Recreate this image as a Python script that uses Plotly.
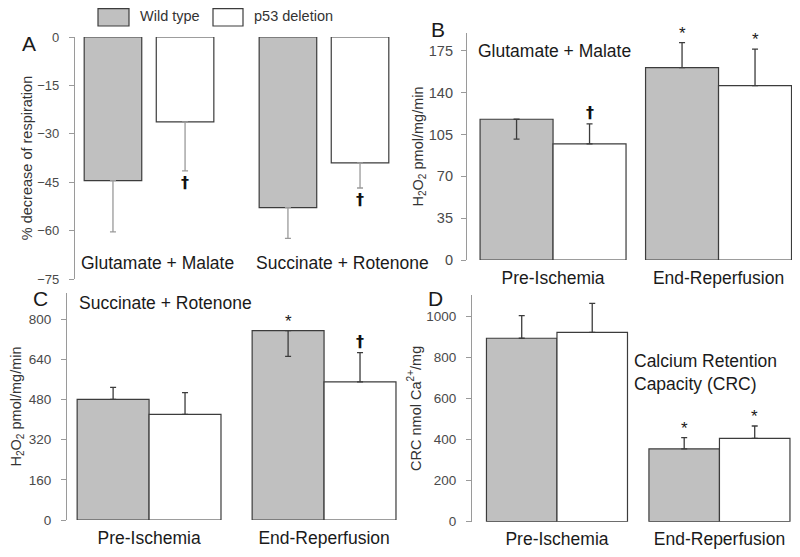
import plotly.graph_objects as go

FONT = "Liberation Sans, Arial, sans-serif"

series = ["Wild type", "p53 deletion"]
series_colors = ["#c0c0c0", "#ffffff"]

# Panel A: % decrease of respiration
a_cats = ["Glutamate + Malate", "Succinate + Rotenone"]
a_wt = [-44.5, -52.9]
a_wt_err = [15.9, 9.5]
a_p53 = [-26.3, -39.0]
a_p53_err = [15.2, 7.8]
a_wt_marks = ["", ""]
a_p53_marks = ["†", "†"]
a_ticks = [0, -15, -30, -45, -60, -75]

# Panels B-D
phases = ["Pre-Ischemia", "End-Reperfusion"]

b_wt = [117.8, 161.1]
b_wt_up = [0, 20.9]
b_wt_dn = [16.7, 0]
b_p53 = [97.2, 146.0]
b_p53_up = [16.7, 30.5]
b_p53_dn = [0, 0]
b_wt_marks = ["", "*"]
b_p53_marks = ["†", "*"]
b_ticks = [0, 35, 70, 105, 140, 175]

c_wt = [481, 755]
c_wt_up = [48, 0]
c_wt_dn = [0, 103]
c_p53 = [421, 551]
c_p53_up = [87, 116]
c_p53_dn = [0, 0]
c_wt_marks = ["", "*"]
c_p53_marks = ["", "†"]
c_ticks = [0, 160, 320, 480, 640, 800]

d_wt = [895, 355]
d_wt_up = [110, 55]
d_wt_dn = [0, 0]
d_p53 = [924, 407]
d_p53_up = [141, 60]
d_p53_dn = [0, 0]
d_wt_marks = ["", "*"]
d_p53_marks = ["", "*"]
d_ticks = [0, 200, 400, 600, 800, 1000]

# page has an 8px body margin; figure sized to fit the window
OFF = 8
W, H = 800 - OFF, 557 - OFF
fig = go.Figure()


def px_x(a, b):
    return [(a - OFF) / W, (b - OFF) / W]


def px_y(top, bottom):
    return [1 - (bottom - OFF) / H, 1 - (top - OFF) / H]


def pap(x, y):
    return (x - OFF) / W, 1 - (y - OFF) / H


panels = {
    "A": dict(ax="", xdom=px_x(75, 398), ydom=px_y(37, 279), xr=[-0.423, 1.423], yr=[-75, 0]),
    "B": dict(ax="2", xdom=px_x(467, 795), ydom=px_y(33, 260), xr=[-0.52, 1.462], yr=[0, 190]),
    "C": dict(ax="3", xdom=px_x(67, 400), ydom=px_y(293, 520), xr=[-0.469, 1.434], yr=[0, 905]),
    "D": dict(ax="4", xdom=px_x(472, 795), ydom=px_y(295, 521.7), xr=[-0.523, 1.465], yr=[0, 1106]),
}

annotations = []


def mark_font(m):
    if m == "†":
        return dict(size=16, color="#111111", family="DejaVu Sans, sans-serif")
    return dict(size=17, color="#1a1a1a", family=FONT)


def add_bar(panel, cats, vals, up, dn, name, color, width, offset, errcolor, marks, negative=False):
    ax = panels[panel]["ax"]
    fig.add_trace(go.Bar(
        x=cats, y=vals, name=name, showlegend=False,
        width=width, offset=offset,
        marker=dict(color=color, line=dict(color="#3c3c3c", width=1.2)),
        error_y=dict(type="data", symmetric=False, array=up, arrayminus=dn,
                     color=errcolor, thickness=1.3, width=3),
        xaxis="x" + ax, yaxis="y" + ax,
    ))
    for i, m in enumerate(marks):
        if not m:
            continue
        xc = i + offset + width / 2
        txt = "<b>" + m + "</b>" if m == "†" else m
        if negative:
            annotations.append(dict(x=xc, y=vals[i] - dn[i], xref="x" + ax, yref="y" + ax,
                                    text=txt, showarrow=False, xanchor="center", yanchor="top",
                                    font=mark_font(m)))
        else:
            top = max(vals[i], vals[i] + up[i])
            annotations.append(dict(x=xc, y=top, xref="x" + ax, yref="y" + ax,
                                    text=txt, showarrow=False, xanchor="center", yanchor="bottom",
                                    yshift=-2 if m == "*" else 0, font=mark_font(m)))


# Panel A
aw = 0.329
add_bar("A", a_cats, a_wt, [0, 0], a_wt_err, series[0], series_colors[0], aw, -0.206 - aw / 2, "#9a9a9a", a_wt_marks, True)
add_bar("A", a_cats, a_p53, [0, 0], a_p53_err, series[1], series_colors[1], aw, 0.206 - aw / 2, "#9a9a9a", a_p53_marks, True)
for i, c in enumerate(a_cats):
    annotations.append(dict(x=i - 0.206 - aw / 2, y=-70, xref="x", yref="y", text=c, showarrow=False,
                            xanchor="left", yanchor="middle", xshift=-5,
                            font=dict(size=17.5, color="#1a1a1a", family=FONT)))

# Panel B
bw = 0.441
add_bar("B", phases, b_wt, b_wt_up, b_wt_dn, series[0], series_colors[0], bw, -bw, "#3c3c3c", b_wt_marks)
add_bar("B", phases, b_p53, b_p53_up, b_p53_dn, series[1], series_colors[1], bw, 0, "#3c3c3c", b_p53_marks)

# Panel C
cw = 0.411
add_bar("C", phases, c_wt, c_wt_up, c_wt_dn, series[0], series_colors[0], cw, -cw, "#3c3c3c", c_wt_marks)
add_bar("C", phases, c_p53, c_p53_up, c_p53_dn, series[1], series_colors[1], cw, 0, "#3c3c3c", c_p53_marks)

# Panel D
dw = 0.434
add_bar("D", phases, d_wt, d_wt_up, d_wt_dn, series[0], series_colors[0], dw, -dw, "#3c3c3c", d_wt_marks)
add_bar("D", phases, d_p53, d_p53_up, d_p53_dn, series[1], series_colors[1], dw, 0, "#3c3c3c", d_p53_marks)

ytitles = {
    "A": "% decrease of respiration",
    "B": "H<sub>2</sub>O<sub>2</sub> pmol/mg/min",
    "C": "H<sub>2</sub>O<sub>2</sub> pmol/mg/min",
    "D": "CRC nmol Ca<sup>2+</sup>/mg",
}
yticks = {"A": a_ticks, "B": b_ticks, "C": c_ticks, "D": d_ticks}
tickfont_size = {"A": 13, "B": 14.5, "C": 13.5, "D": 13.5}
label_gap = {"A": 7, "B": 5, "C": 7, "D": 7}
standoff = {"A": 1, "B": 1, "C": 4, "D": 1}

layout = {}
for key, p in panels.items():
    ax = p["ax"]
    layout["xaxis" + ax] = dict(
        domain=p["xdom"], range=p["xr"], anchor="y" + ax, type="category",
        showline=False, showgrid=False, zeroline=False, ticks="", automargin=False,
        showticklabels=(key != "A"), ticklabelstandoff=5,
        tickfont=dict(size=17.5, color="#1a1a1a", family=FONT),
    )
    layout["yaxis" + ax] = dict(
        domain=p["ydom"], range=p["yr"], anchor="x" + ax, automargin=False,
        showline=True, linecolor="#9a9a9a", linewidth=1.2,
        ticks="outside", ticklen=5, tickcolor="#9a9a9a", tickwidth=1.2,
        ticklabelstandoff=label_gap[key],
        tickvals=yticks[key], showgrid=False, zeroline=False,
        tickfont=dict(size=tickfont_size[key], color="#4a4a4a", family=FONT),
        title=dict(text=ytitles[key], standoff=standoff[key],
                   font=dict(size=14.5, color="#333333", family=FONT)),
    )

# Panel letters
for letter, (x, y) in {"A": (29, 43), "B": (438, 29), "C": (40, 298), "D": (435, 298)}.items():
    px, py = pap(x, y)
    annotations.append(dict(x=px, y=py, xref="paper", yref="paper", text=letter,
                            xanchor="center", yanchor="middle", showarrow=False,
                            font=dict(size=21, color="#1a1a1a", family=FONT)))

# Panel subtitles
sub_font = dict(size=17.5, color="#1a1a1a", family=FONT)
for text, (x, y) in [("Glutamate + Malate", (476, 51)),
                     ("Succinate + Rotenone", (77, 303)),
                     ("Calcium Retention<br>Capacity (CRC)", (632, 372))]:
    px, py = pap(x, y)
    annotations.append(dict(x=px, y=py, xref="paper", yref="paper", text=text, align="left",
                            xanchor="left", yanchor="middle", showarrow=False, font=sub_font))

# Custom legend
shapes = []
legend_pos = [(98, 129, 138), (213, 243, 252)]
for (x0, x1, tx), name, col in zip(legend_pos, series, series_colors):
    px0, py0 = pap(x0, 26)
    px1, py1 = pap(x1, 8.6)
    shapes.append(dict(type="rect", xref="paper", yref="paper", x0=px0, x1=px1,
                       y0=py0, y1=py1, fillcolor=col, line=dict(color="#3c3c3c", width=1.2)))
    tx_, ty_ = pap(tx, 16)
    annotations.append(dict(x=tx_, y=ty_, xref="paper", yref="paper", text=name,
                            xanchor="left", yanchor="middle", showarrow=False,
                            font=dict(size=14.5, color="#333333", family=FONT)))

fig.update_layout(
    template="none",
    width=W, height=H, margin=dict(l=0, r=0, t=0, b=0, autoexpand=False),
    paper_bgcolor="white", plot_bgcolor="white",
    font=dict(family=FONT), annotations=annotations, shapes=shapes,
    **layout,
)

fig.write_html("out.html")
